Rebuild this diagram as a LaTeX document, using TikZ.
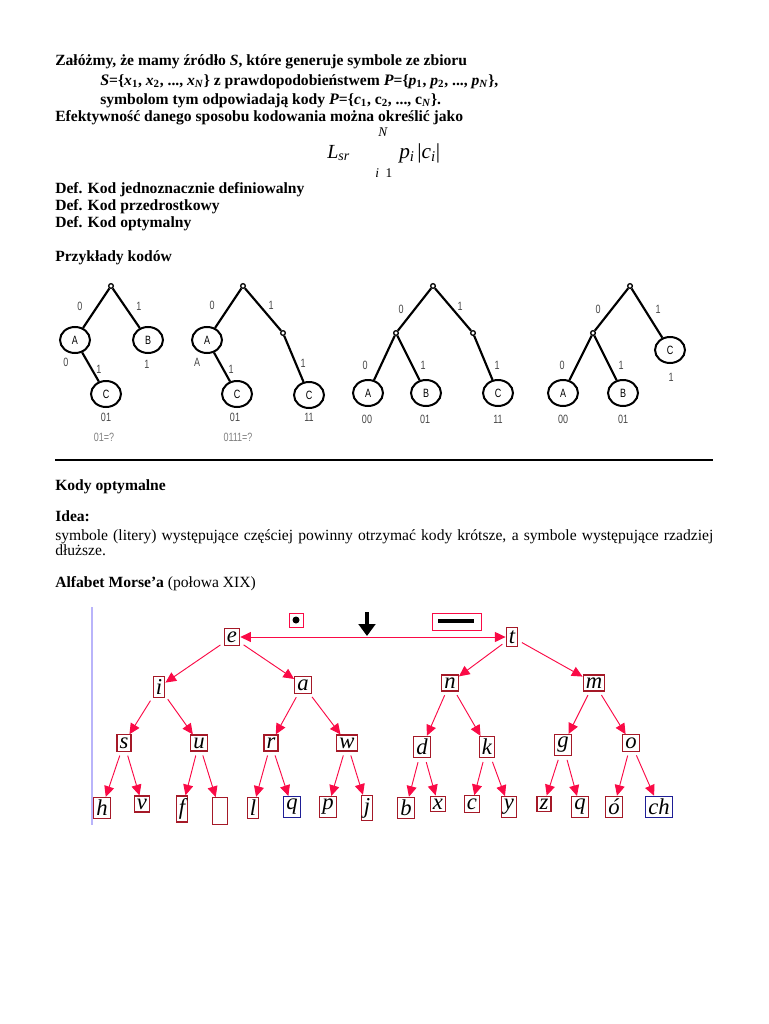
\documentclass[tikz,border=0pt]{standalone}
\usepackage{fontspec}
\setmainfont{Liberation Serif}
\newfontfamily\narrowsans[FakeStretch=0.75]{Liberation Sans}
\usetikzlibrary{arrows.meta,shapes.geometric}

\definecolor{boxred}{RGB}{165,25,40}
\definecolor{arrred}{RGB}{250,10,70}
\definecolor{boxblue}{RGB}{30,30,150}
\definecolor{violetline}{RGB}{185,180,250}
\definecolor{labgray}{RGB}{70,70,70}

\newcommand*{\bodyfont}{\fontsize{11.7}{14}\selectfont}
\newcommand*{\labfont}{\narrowsans\fontsize{9}{10}\selectfont}

\begin{document}
\begin{tikzpicture}
[
	x=0.75pt,
	y=-0.75pt,
	txt/.style={anchor=base west,inner sep=0pt,font=\bodyfont\bfseries},
	plain/.style={anchor=base west,inner sep=0pt,font=\bodyfont},
	leaf/.style={ellipse,draw,line width=1.5pt,minimum width=22.5pt,minimum height=19.5pt,inner sep=0pt,font=\labfont},
	knot/.style={circle,draw,line width=1pt,inner sep=0pt,minimum size=3.5pt},
	edgelab/.style={inner sep=0pt,font=\labfont,text=labgray},
	branch/.style={line width=1.6pt},
	letter/.style={draw=boxred,line width=0.9pt,inner sep=2pt,font=\fontsize{17}{17}\selectfont\itshape},
	blueletter/.style={letter,draw=boxblue},
	morse/.style={draw=arrred,line width=0.7pt,-{Triangle[length=8pt,width=7.5pt]},shorten <=3pt}
]

	\useasboundingbox (0,0) rectangle (768,1024);

	% text at the top
	\node[txt] (intro1) at (55,65) {Załóżmy, że mamy źródło \textit{S}, które generuje symbole ze zbioru};
	\node[txt] (intro2) at (100,85) {\textit{\large S}=\{\textit{x}\textsubscript{1}, \textit{x}\textsubscript{2}, ..., \textit{x}\textsubscript{\textit{N}}\} z prawdopodobieństwem \textit{\large P}=\{\textit{p}\textsubscript{1}, \textit{p}\textsubscript{2}, ..., \textit{p}\textsubscript{\textit{N}}\},};
	\node[txt] (intro3) at (100,104) {symbolom tym odpowiadają kody \textit{\large P}=\{\textit{c}\textsubscript{1}, c\textsubscript{2}, ..., c\textsubscript{\textit{N}}\}.};
	\node[txt] (intro4) at (55,122) {Efektywność danego sposobu kodowania można określić jako};

	% formula
	\node[anchor=base west,inner sep=0pt,font=\fontsize{15}{15}\selectfont\itshape] (lsr) at (327,158) {L\textsubscript{sr}};
	\node[anchor=base west,inner sep=0pt,font=\fontsize{10}{10}\selectfont\itshape] (upper) at (378,137) {N};
	\node[anchor=base west,inner sep=0pt,font=\fontsize{10}{10}\selectfont] (lower) at (375,177) {\textit{i}\hspace{5pt}1};
	\node[anchor=base west,inner sep=0pt,font=\fontsize{16}{16}\selectfont\itshape] (sum) at (399,158) {p\textsubscript{i}\hspace{2pt}{\upshape|}c\textsubscript{i}{\upshape|}};

	\node[txt] (def1) at (55,193) {Def. Kod jednoznacznie definiowalny};
	\node[txt] (def2) at (55,210) {Def. Kod przedrostkowy};
	\node[txt] (def3) at (55,227) {Def. Kod optymalny};
	\node[txt] (examples) at (55,261) {Przykłady kodów};

	% first tree
	\node[knot] (r1) at (111,286) {};
	\node[leaf] (a1) at (75,340) {A};
	\node[leaf] (b1) at (148,340) {B};
	\node[leaf] (c1) at (106,394) {C};
	\draw[branch] (r1) -- (a1);
	\draw[branch] (r1) -- (b1);
	\draw[branch] (a1) -- (c1);
	\node[edgelab] (t1l0) at (80,306) {0};
	\node[edgelab] (t1l1) at (139,306) {1};
	\node[edgelab] (t1l2) at (66,362) {0};
	\node[edgelab] (t1l3) at (99,369) {1};
	\node[edgelab] (t1l4) at (147,364) {1};
	\node[edgelab] (t1c) at (106,417) {01};
	\node[edgelab,text=gray] (t1q) at (104,437) {01=?};

	% second tree
	\node[knot] (r2) at (243,286) {};
	\node[knot] (k2) at (283,333) {};
	\node[leaf] (a2) at (207,340) {A};
	\node[leaf] (c2a) at (237,394) {C};
	\node[leaf] (c2b) at (309,395) {C};
	\draw[branch] (r2) -- (a2);
	\draw[branch] (r2) -- (k2);
	\draw[branch] (k2) -- (c2b);
	\draw[branch] (a2) -- (c2a);
	\node[edgelab] (t2l0) at (212,305) {0};
	\node[edgelab] (t2l1) at (271,305) {1};
	\node[edgelab] (t2l2) at (197,362) {A};
	\node[edgelab] (t2l3) at (231,369) {1};
	\node[edgelab] (t2l4) at (303,363) {1};
	\node[edgelab] (t2c) at (235,417) {01};
	\node[edgelab] (t2d) at (309,417) {11};
	\node[edgelab,text=gray] (t2q) at (238,437) {0111=?};

	% third tree
	\node[knot] (r3) at (433,286) {};
	\node[knot] (k3a) at (396,333) {};
	\node[knot] (k3b) at (473,333) {};
	\node[leaf] (a3) at (368,393) {A};
	\node[leaf] (b3) at (426,393) {B};
	\node[leaf] (c3) at (498,393) {C};
	\draw[branch] (r3) -- (k3a);
	\draw[branch] (r3) -- (k3b);
	\draw[branch] (k3a) -- (a3);
	\draw[branch] (k3a) -- (b3);
	\draw[branch] (k3b) -- (c3);
	\node[edgelab] (t3l0) at (401,309) {0};
	\node[edgelab] (t3l1) at (460,306) {1};
	\node[edgelab] (t3l2) at (365,365) {0};
	\node[edgelab] (t3l3) at (423,365) {1};
	\node[edgelab] (t3l4) at (497,365) {1};
	\node[edgelab] (t3a) at (367,419) {00};
	\node[edgelab] (t3b) at (425,419) {01};
	\node[edgelab] (t3c) at (498,419) {11};

	% fourth tree
	\node[knot] (r4) at (630,286) {};
	\node[knot] (k4) at (593,333) {};
	\node[leaf] (c4) at (670,350) {C};
	\node[leaf] (a4) at (563,393) {A};
	\node[leaf] (b4) at (623,393) {B};
	\draw[branch] (r4) -- (k4);
	\draw[branch] (r4) -- (c4);
	\draw[branch] (k4) -- (a4);
	\draw[branch] (k4) -- (b4);
	\node[edgelab] (t4l0) at (598,309) {0};
	\node[edgelab] (t4l1) at (658,309) {1};
	\node[edgelab] (t4l2) at (562,365) {0};
	\node[edgelab] (t4l3) at (621,365) {1};
	\node[edgelab] (t4l4) at (671,377) {1};
	\node[edgelab] (t4a) at (563,419) {00};
	\node[edgelab] (t4b) at (623,419) {01};

	\draw[line width=1pt] (55,460) -- (713,460);

	% second part
	\node[txt] (optimal) at (55,490) {Kody optymalne};
	\node[txt] (idea) at (55,521) {Idea:};
	\node[plain] (idea1) at (55,540) {\makebox[493.5pt][s]{symbole (litery) występujące częściej powinny otrzymać kody krótsze, a symbole występujące rzadziej}};
	\node[plain] (idea2) at (55,555) {dłuższe.};
	\node[plain] (morsetitle) at (55,587) {\textbf{Alfabet Morse’a} (połowa XIX)};

	% morse tree
	\draw[violetline,line width=1pt] (92,607) -- (92,825);
	\node[draw=arrred,line width=0.7pt,minimum size=10.5pt,inner sep=0pt] (dotbox) at (296,620) {};
	\fill (dotbox.center) circle (3.5);
	\node[draw=arrred,line width=0.7pt,minimum width=36.75pt,minimum height=12.75pt,inner sep=0pt] (dashbox) at (456.5,621.5) {};
	\draw[line width=2.6pt] (438,621) -- (474,621);
	\draw[line width=3pt,-{Triangle[length=9pt,width=12.5pt]}] (367,612) -- (367,636);

	\node[letter] (e) at (232,637) {e};
	\node[letter] (t) at (512,637) {t};
	\draw[draw=arrred,line width=0.7pt,{Triangle[length=8pt,width=7.5pt]}-{Triangle[length=8pt,width=7.5pt]}] (e) -- (t);

	\node[letter] (i) at (159,687) {i};
	\node[letter] (a) at (303,685) {a};
	\node[letter] (n) at (450,683) {n};
	\node[letter] (m) at (594,683) {m};

	\node[letter] (s) at (124,743) {s};
	\node[letter] (u) at (199,743) {u};
	\node[letter] (r) at (271,743) {r};
	\node[letter] (w) at (347,743) {w};
	\node[letter] (d) at (422,747) {d};
	\node[letter] (k) at (487,747) {k};
	\node[letter] (g) at (563,745) {g};
	\node[letter] (o) at (631,743) {o};

	\node[letter] (h) at (102,808) {h};
	\node[letter] (v) at (142,804) {v};
	\node[letter] (f) at (182,809) {f};
	\node[letter,minimum width=11pt,minimum height=20pt] (empty) at (220,811) {};
	\node[letter] (l) at (253,808) {l};
	\node[blueletter] (q) at (292,807) {q};
	\node[letter] (p) at (328,807) {p};
	\node[letter] (j) at (367,808) {j};
	\node[letter] (b) at (406,808) {b};
	\node[letter] (x) at (438,804) {x};
	\node[letter] (c) at (472,804) {c};
	\node[letter] (y) at (509,807) {y};
	\node[letter] (z) at (544,804) {z};
	\node[letter] (q2) at (580,807) {q};
	\node[letter] (oacute) at (614,807) {ó};
	\node[blueletter] (ch) at (659,807) {ch};

	\foreach \from/\to in {e/i,e/a,t/n,t/m,i/s,i/u,a/r,a/w,n/d,n/k,m/g,m/o,
		s/h,s/v,u/f,u/empty,r/l,r/q,w/p,w/j,d/b,d/x,k/c,k/y,g/z,g/q2,o/oacute,o/ch}
		\draw[morse] (\from) -- (\to);

\end{tikzpicture}
\end{document}
